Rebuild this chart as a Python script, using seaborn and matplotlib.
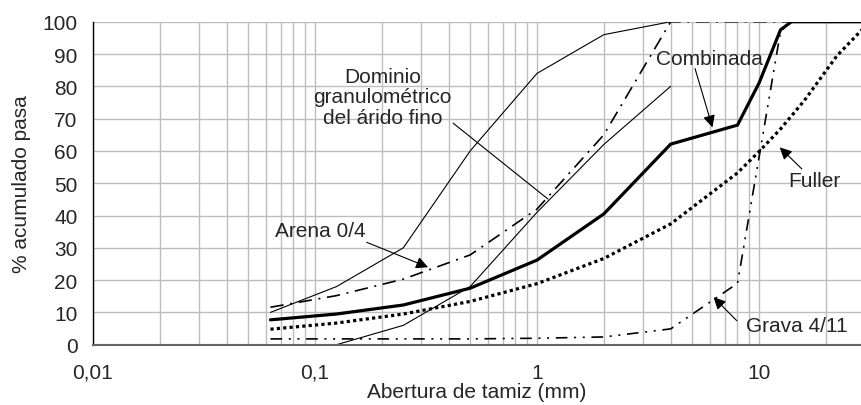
import numpy as np
import pandas as pd
import matplotlib
matplotlib.use("Agg")
import matplotlib.pyplot as plt
from matplotlib.ticker import FixedLocator, LogLocator, NullFormatter
import seaborn as sns

# ---- data ----
upper_x = [0.063, 0.125, 0.25, 0.5, 1, 2, 4]
upper_y = [10, 18, 30, 60, 84, 96, 100]

lower_x = [0.125, 0.25, 0.5, 1, 2, 4]
lower_y = [0, 6, 18, 41, 62, 80]

arena_x = [0.063, 0.125, 0.25, 0.5, 1, 2, 4, 8, 14, 31.5]
arena_y = [11.6, 15.2, 20.3, 27.8, 42, 65, 100, 100, 100, 100]

grava_x = [0.063, 0.125, 0.25, 0.5, 1, 2, 4, 8, 12.5, 14, 31.5]
grava_y = [1.8, 1.8, 1.8, 1.8, 2, 2.4, 4.9, 19, 97, 100, 100]

comb_x = [0.063, 0.125, 0.25, 0.5, 1, 2, 4, 8, 10, 12.5, 14, 31.5]
comb_y = [7.7, 9.5, 12.3, 17.5, 26.2, 40.5, 62.1, 68, 81, 97.5, 100, 100]

fuller_x = [0.063, 0.125, 0.25, 0.5, 1, 2, 4, 8, 10, 12.5, 16, 22.4, 31.5]
fuller_y = [4.8, 6.7, 9.5, 13.4, 18.9, 26.7, 37.4, 53.2, 59.8, 66.8, 75.6, 89.4, 100]

xticks = [0.01, 0.1, 1, 10]
xticklabels = ["0,01", "0,1", "1", "10"]
yticks = list(range(0, 101, 10))

# ---- style ----
sns.set_theme(style="white")
plt.rcParams["font.family"] = ["Liberation Sans", "DejaVu Sans"]

fig = plt.figure(figsize=(8.61, 4.06), dpi=100)
ax = fig.add_axes([0.108, 0.1485, 0.892, 0.7955])

grid_c = "#bdbdbd"

def draw(x, y, **kw):
    df = pd.DataFrame({"x": x, "y": y})
    sns.lineplot(data=df, x="x", y="y", ax=ax, sort=False, estimator=None,
                 color="black", **kw)

draw(upper_x, upper_y, linewidth=0.8)
draw(lower_x, lower_y, linewidth=0.8)
draw(grava_x, grava_y, linewidth=1.2, linestyle=(0, (7, 4, 1.2, 4, 1.2, 4)))
draw(arena_x, arena_y, linewidth=1.2, linestyle=(0, (8, 4, 1.2, 4)))
draw(fuller_x, fuller_y, linewidth=2.3, linestyle=(0, (1, 1)))
draw(comb_x, comb_y, linewidth=2.3)

ax.set_xscale("log")
ax.set_xlim(0.01, 28.8)
ax.set_ylim(0, 100)

ax.xaxis.set_major_locator(FixedLocator(xticks))
ax.set_xticklabels(xticklabels)
ax.xaxis.set_minor_locator(LogLocator(base=10, subs=np.arange(2, 10)))
ax.xaxis.set_minor_formatter(NullFormatter())
ax.set_yticks(yticks)

ax.grid(True, which="both", axis="x", color=grid_c, linewidth=1.0)
ax.grid(True, which="major", axis="y", color=grid_c, linewidth=1.0)
ax.set_axisbelow(True)

for s in ["top", "right"]:
    ax.spines[s].set_visible(False)
ax.spines["left"].set_color("black")
ax.spines["left"].set_linewidth(1.0)
ax.spines["bottom"].set_color("#666666")
ax.spines["bottom"].set_linewidth(1.5)

ax.tick_params(axis="both", which="major", direction="out", length=7,
               width=1.0, color="black", labelsize=15, pad=4)
ax.tick_params(axis="x", which="minor", length=0)
ax.tick_params(axis="x", which="major", pad=6)

ax.set_xlabel("Abertura de tamiz (mm)", fontsize=15, labelpad=0)
ax.set_ylabel("% acumulado pasa", fontsize=15, labelpad=8)

fs = 15
# annotations
ax.text(0.202, 76.7, "Dominio\ngranulométrico\ndel árido fino", ha="center",
        va="center", fontsize=fs, linespacing=1.1)
ax.annotate("", xy=(1.12, 45.1), xytext=(0.419, 68.6),
            arrowprops=dict(arrowstyle="-", color="black", lw=0.8,
                            shrinkA=0, shrinkB=0))

ax.text(0.066, 35.3, "Arena 0/4", ha="left", va="center", fontsize=fs)
ax.annotate("", xy=(0.323, 24.0), xytext=(0.171, 31.7),
            arrowprops=dict(arrowstyle="-|>", color="black", lw=0.8,
                            mutation_scale=18, shrinkA=0, shrinkB=0))

ax.text(5.96, 88.7, "Combinada", ha="center", va="center", fontsize=fs)
ax.annotate("", xy=(6.17, 67.3), xytext=(5.15, 85.5),
            arrowprops=dict(arrowstyle="-|>", color="black", lw=0.8,
                            mutation_scale=18, shrinkA=0, shrinkB=0))

ax.text(17.7, 50.8, "Fuller", ha="center", va="center", fontsize=fs)
ax.annotate("", xy=(12.4, 61.1), xytext=(15.6, 54.4),
            arrowprops=dict(arrowstyle="-|>", color="black", lw=0.8,
                            mutation_scale=18, shrinkA=0, shrinkB=0))

ax.text(14.8, 5.9, "Grava 4/11", ha="center", va="center", fontsize=fs)
ax.annotate("", xy=(6.24, 14.7), xytext=(7.95, 7.4),
            arrowprops=dict(arrowstyle="-|>", color="black", lw=0.8,
                            mutation_scale=18, shrinkA=0, shrinkB=0))

fig.savefig("out.png", dpi=100)
